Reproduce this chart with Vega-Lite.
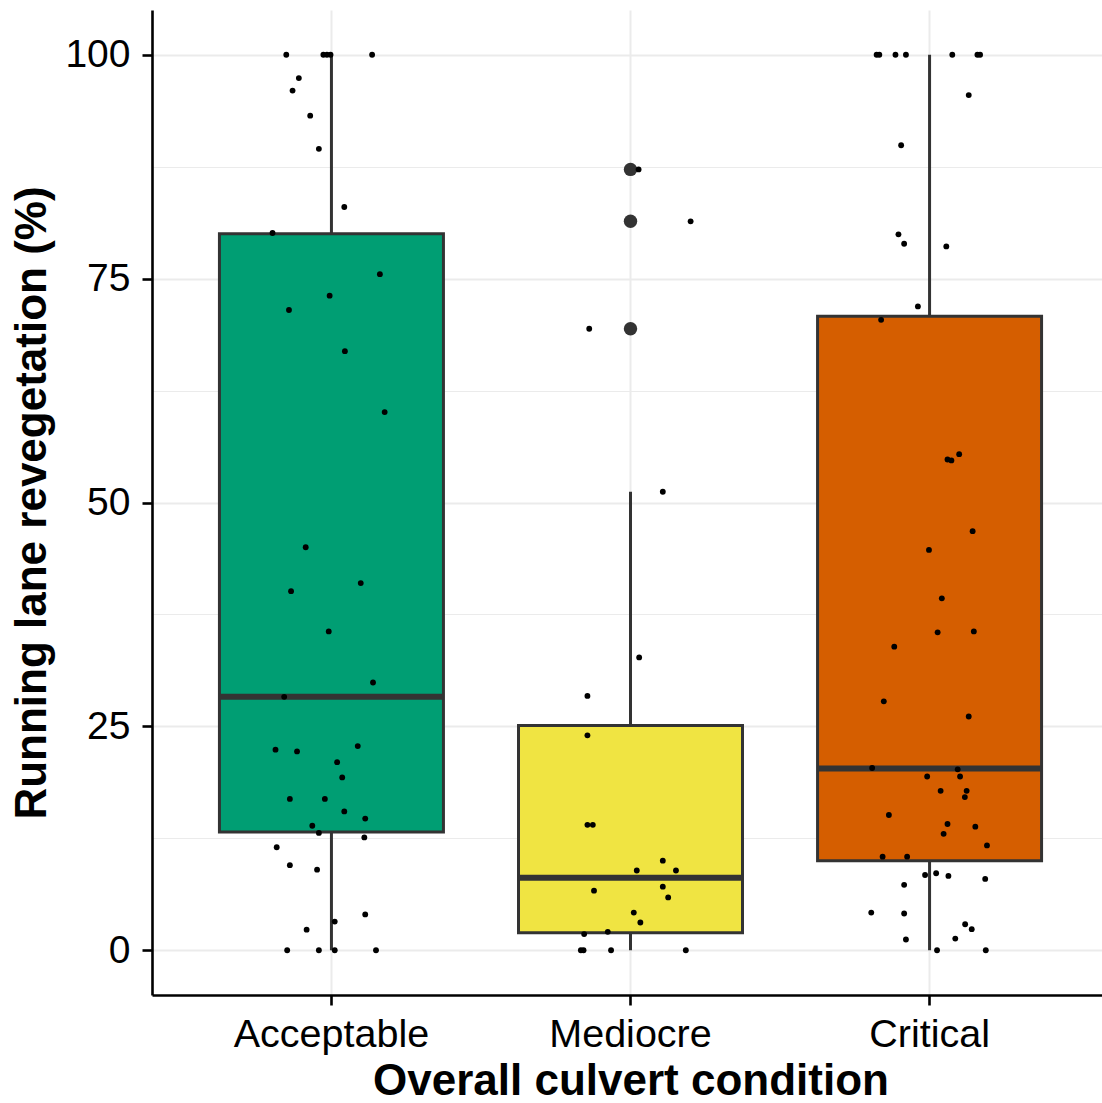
{
  "$schema": "https://vega.github.io/schema/vega-lite/v6.json",
  "width": 950,
  "height": 985,
  "autosize": {"type": "none"},
  "padding": {"left": 152, "top": 10, "right": 0, "bottom": 108},
  "background": "white",
  "config": {"view": {"stroke": null}, "font": "Liberation Sans"},
  "datasets": {
    "boxes": [
      {"condition": "Acceptable", "lower": 0, "q1": 13.2, "median": 28.3, "q3": 80.0, "upper": 100},
      {"condition": "Mediocre", "lower": 0, "q1": 1.96, "median": 8.1, "q3": 25.1, "upper": 51.2},
      {"condition": "Critical", "lower": 0, "q1": 10.0, "median": 20.3, "q3": 70.8, "upper": 100}
    ],
    "outliers": [
      {"condition": "Mediocre", "value": 87.2},
      {"condition": "Mediocre", "value": 81.4},
      {"condition": "Mediocre", "value": 69.4}
    ],
    "points": [
      {"condition": "Acceptable", "dx": -0.151, "value": 100},
      {"condition": "Acceptable", "dx": -0.027, "value": 100},
      {"condition": "Acceptable", "dx": -0.015, "value": 100},
      {"condition": "Acceptable", "dx": -0.003, "value": 100},
      {"condition": "Acceptable", "dx": 0.136, "value": 100},
      {"condition": "Acceptable", "dx": -0.109, "value": 97.4},
      {"condition": "Acceptable", "dx": -0.130, "value": 96.0},
      {"condition": "Acceptable", "dx": -0.071, "value": 93.2},
      {"condition": "Acceptable", "dx": -0.042, "value": 89.5},
      {"condition": "Acceptable", "dx": 0.043, "value": 83.0},
      {"condition": "Acceptable", "dx": -0.197, "value": 80.1},
      {"condition": "Acceptable", "dx": 0.162, "value": 75.5},
      {"condition": "Acceptable", "dx": -0.006, "value": 73.1},
      {"condition": "Acceptable", "dx": -0.142, "value": 71.5},
      {"condition": "Acceptable", "dx": 0.045, "value": 66.9},
      {"condition": "Acceptable", "dx": 0.178, "value": 60.1},
      {"condition": "Acceptable", "dx": -0.086, "value": 45.0},
      {"condition": "Acceptable", "dx": 0.098, "value": 41.0},
      {"condition": "Acceptable", "dx": -0.135, "value": 40.1},
      {"condition": "Acceptable", "dx": -0.009, "value": 35.6},
      {"condition": "Acceptable", "dx": 0.139, "value": 29.9},
      {"condition": "Acceptable", "dx": -0.158, "value": 28.3},
      {"condition": "Acceptable", "dx": 0.088, "value": 22.8},
      {"condition": "Acceptable", "dx": -0.187, "value": 22.4},
      {"condition": "Acceptable", "dx": -0.115, "value": 22.2},
      {"condition": "Acceptable", "dx": 0.019, "value": 21.0},
      {"condition": "Acceptable", "dx": 0.036, "value": 19.3},
      {"condition": "Acceptable", "dx": -0.139, "value": 16.9},
      {"condition": "Acceptable", "dx": -0.022, "value": 16.9},
      {"condition": "Acceptable", "dx": 0.043, "value": 15.5},
      {"condition": "Acceptable", "dx": 0.113, "value": 14.7},
      {"condition": "Acceptable", "dx": -0.064, "value": 13.9},
      {"condition": "Acceptable", "dx": -0.042, "value": 13.1},
      {"condition": "Acceptable", "dx": 0.110, "value": 12.6},
      {"condition": "Acceptable", "dx": -0.183, "value": 11.5},
      {"condition": "Acceptable", "dx": -0.139, "value": 9.5},
      {"condition": "Acceptable", "dx": -0.048, "value": 9.0},
      {"condition": "Acceptable", "dx": 0.113, "value": 4.0},
      {"condition": "Acceptable", "dx": 0.011, "value": 3.2},
      {"condition": "Acceptable", "dx": -0.083, "value": 2.3},
      {"condition": "Acceptable", "dx": -0.148, "value": 0},
      {"condition": "Acceptable", "dx": -0.042, "value": 0},
      {"condition": "Acceptable", "dx": 0.011, "value": 0},
      {"condition": "Acceptable", "dx": 0.149, "value": 0},
      {"condition": "Mediocre", "dx": 0.027, "value": 87.2},
      {"condition": "Mediocre", "dx": 0.201, "value": 81.4},
      {"condition": "Mediocre", "dx": -0.138, "value": 69.4},
      {"condition": "Mediocre", "dx": 0.108, "value": 51.2},
      {"condition": "Mediocre", "dx": 0.029, "value": 32.7},
      {"condition": "Mediocre", "dx": -0.144, "value": 28.4},
      {"condition": "Mediocre", "dx": -0.144, "value": 24.0},
      {"condition": "Mediocre", "dx": -0.144, "value": 14.0},
      {"condition": "Mediocre", "dx": -0.126, "value": 14.0},
      {"condition": "Mediocre", "dx": 0.108, "value": 10.0},
      {"condition": "Mediocre", "dx": 0.021, "value": 8.9},
      {"condition": "Mediocre", "dx": 0.152, "value": 8.9},
      {"condition": "Mediocre", "dx": -0.122, "value": 6.65},
      {"condition": "Mediocre", "dx": 0.108, "value": 7.1},
      {"condition": "Mediocre", "dx": 0.126, "value": 5.9},
      {"condition": "Mediocre", "dx": 0.011, "value": 4.2},
      {"condition": "Mediocre", "dx": 0.033, "value": 3.1},
      {"condition": "Mediocre", "dx": -0.155, "value": 1.8},
      {"condition": "Mediocre", "dx": -0.076, "value": 2.05},
      {"condition": "Mediocre", "dx": -0.166, "value": 0},
      {"condition": "Mediocre", "dx": -0.157, "value": 0},
      {"condition": "Mediocre", "dx": -0.065, "value": 0},
      {"condition": "Mediocre", "dx": 0.185, "value": 0},
      {"condition": "Critical", "dx": -0.177, "value": 100},
      {"condition": "Critical", "dx": -0.168, "value": 100},
      {"condition": "Critical", "dx": -0.114, "value": 100},
      {"condition": "Critical", "dx": -0.079, "value": 100},
      {"condition": "Critical", "dx": 0.076, "value": 100},
      {"condition": "Critical", "dx": 0.160, "value": 100},
      {"condition": "Critical", "dx": 0.169, "value": 100},
      {"condition": "Critical", "dx": 0.131, "value": 95.5},
      {"condition": "Critical", "dx": -0.095, "value": 89.9},
      {"condition": "Critical", "dx": -0.104, "value": 79.95},
      {"condition": "Critical", "dx": -0.085, "value": 78.9},
      {"condition": "Critical", "dx": 0.056, "value": 78.6},
      {"condition": "Critical", "dx": -0.039, "value": 71.9},
      {"condition": "Critical", "dx": -0.162, "value": 70.4},
      {"condition": "Critical", "dx": 0.060, "value": 54.8},
      {"condition": "Critical", "dx": 0.073, "value": 54.7},
      {"condition": "Critical", "dx": 0.099, "value": 55.4},
      {"condition": "Critical", "dx": 0.144, "value": 46.8},
      {"condition": "Critical", "dx": -0.002, "value": 44.7},
      {"condition": "Critical", "dx": 0.041, "value": 39.3},
      {"condition": "Critical", "dx": 0.027, "value": 35.5},
      {"condition": "Critical", "dx": 0.148, "value": 35.6},
      {"condition": "Critical", "dx": -0.118, "value": 33.9},
      {"condition": "Critical", "dx": -0.153, "value": 27.8},
      {"condition": "Critical", "dx": 0.131, "value": 26.1},
      {"condition": "Critical", "dx": -0.192, "value": 20.35},
      {"condition": "Critical", "dx": 0.094, "value": 20.2},
      {"condition": "Critical", "dx": -0.008, "value": 19.4},
      {"condition": "Critical", "dx": 0.102, "value": 19.4},
      {"condition": "Critical", "dx": 0.037, "value": 17.8},
      {"condition": "Critical", "dx": 0.124, "value": 17.8},
      {"condition": "Critical", "dx": 0.118, "value": 17.1},
      {"condition": "Critical", "dx": -0.136, "value": 15.1},
      {"condition": "Critical", "dx": 0.060, "value": 14.1},
      {"condition": "Critical", "dx": 0.153, "value": 13.8},
      {"condition": "Critical", "dx": 0.047, "value": 13.0},
      {"condition": "Critical", "dx": 0.192, "value": 11.7},
      {"condition": "Critical", "dx": -0.157, "value": 10.45},
      {"condition": "Critical", "dx": -0.075, "value": 10.45},
      {"condition": "Critical", "dx": -0.015, "value": 8.4},
      {"condition": "Critical", "dx": 0.022, "value": 8.6},
      {"condition": "Critical", "dx": 0.063, "value": 8.3},
      {"condition": "Critical", "dx": 0.186, "value": 7.96},
      {"condition": "Critical", "dx": -0.085, "value": 7.3},
      {"condition": "Critical", "dx": -0.195, "value": 4.2},
      {"condition": "Critical", "dx": -0.085, "value": 4.1},
      {"condition": "Critical", "dx": 0.119, "value": 2.9},
      {"condition": "Critical", "dx": 0.141, "value": 2.35},
      {"condition": "Critical", "dx": -0.079, "value": 1.2},
      {"condition": "Critical", "dx": 0.086, "value": 1.3},
      {"condition": "Critical", "dx": 0.025, "value": 0},
      {"condition": "Critical", "dx": 0.188, "value": 0}
    ]
  },
  "encoding": {
    "x": {
      "field": "condition",
      "type": "nominal",
      "sort": ["Acceptable", "Mediocre", "Critical"],
      "scale": {"type": "band", "range": [0, 957], "paddingInner": 0.25, "paddingOuter": 0.225},
      "axis": {
        "title": "Overall culvert condition",
        "labelAngle": 0,
        "labelLimit": 0,
        "bandPosition": 0.5,
        "grid": true,
        "gridColor": "#EBEBEB",
        "gridWidth": 2,
        "domainColor": "black",
        "domainWidth": 2.6,
        "tickColor": "black",
        "tickWidth": 2.6,
        "tickSize": 10,
        "labelFont": "Liberation Sans",
        "labelFontSize": 39.5,
        "labelColor": "black",
        "labelPadding": 10,
        "titleFont": "Liberation Sans",
        "titleFontSize": 44,
        "titleFontWeight": "bold",
        "titleColor": "black",
        "titlePadding": 6
      }
    }
  },
  "layer": [
    {
      "data": {"name": "boxes"},
      "mark": {"type": "rule", "color": "#333333", "strokeWidth": 3},
      "encoding": {
        "y": {
          "field": "lower",
          "type": "quantitative",
          "scale": {"domain": [-5, 105], "nice": false, "zero": false},
          "axis": {
            "values": [0, 12.5, 25, 37.5, 50, 62.5, 75, 87.5, 100],
            "labelExpr": "datum.value % 25 === 0 ? datum.label : ''",
            "grid": true,
            "gridColor": "#EBEBEB",
            "gridWidth": {"condition": {"test": "datum.value % 25 === 0", "value": 2}, "value": 1.1},
            "tickOpacity": {"condition": {"test": "datum.value % 25 === 0", "value": 1}, "value": 0},
            "domainColor": "black",
            "domainWidth": 2.6,
            "tickColor": "black",
            "tickWidth": 2.6,
            "tickSize": 10,
            "labelFont": "Liberation Sans",
            "labelFontSize": 39,
            "labelColor": "black",
            "labelPadding": 12,
            "title": "Running lane revegetation (%)",
            "titleFont": "Liberation Sans",
            "titleFontSize": 44,
            "titleFontWeight": "bold",
            "titleColor": "black",
            "titlePadding": 10
          }
        },
        "y2": {"field": "upper"}
      }
    },
    {
      "data": {"name": "boxes"},
      "mark": {"type": "bar", "stroke": "#333333", "strokeWidth": 3, "width": 224},
      "encoding": {
        "y": {"field": "q1", "type": "quantitative"},
        "y2": {"field": "q3"},
        "fill": {
          "field": "condition",
          "type": "nominal",
          "scale": {"domain": ["Acceptable", "Mediocre", "Critical"], "range": ["#009E73", "#F0E442", "#D55E00"]},
          "legend": null
        }
      }
    },
    {
      "data": {"name": "boxes"},
      "mark": {"type": "tick", "color": "#333333", "thickness": 6, "size": 224, "opacity": 1},
      "encoding": {
        "y": {"field": "median", "type": "quantitative"}
      }
    },
    {
      "data": {"name": "outliers"},
      "mark": {"type": "circle", "color": "#333333", "size": 180, "opacity": 1},
      "encoding": {
        "y": {"field": "value", "type": "quantitative"}
      }
    },
    {
      "data": {"name": "points"},
      "mark": {"type": "circle", "color": "black", "size": 34, "opacity": 1},
      "encoding": {
        "y": {"field": "value", "type": "quantitative"},
        "xOffset": {"field": "dx", "type": "quantitative", "scale": {"domain": [-0.375, 0.375], "range": [0, 224.3]}}
      }
    }
  ]
}
